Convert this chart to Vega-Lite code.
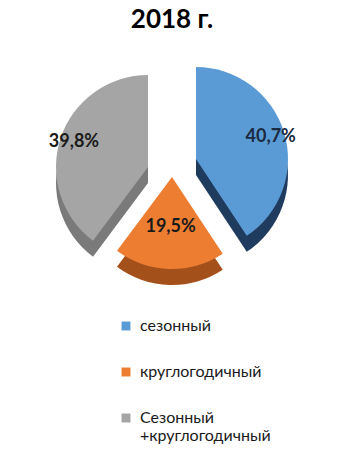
{
  "$schema": "https://vega.github.io/schema/vega-lite/v6.json",
  "width": 344,
  "height": 248,
  "padding": {"left": 0, "right": 0, "top": 7, "bottom": 0},
  "background": "white",
  "title": {"text": "2018 г.", "fontSize": 26, "font": "Lato", "fontWeight": "bold", "color": "#000000", "offset": 6, "anchor": "middle"},
  "config": {"view": {"stroke": null}},
  "data": {"values": [
    {"category": "сезонный", "value": 40.7, "label": "40,7%", "order": 1},
    {"category": "круглогодичный", "value": 19.5, "label": "19,5%", "order": 2},
    {"category": "Сезонный +круглогодичный", "value": 39.8, "label": "39,8%", "order": 3}
  ]},
  "encoding": {
    "theta": {"field": "value", "type": "quantitative", "stack": true},
    "order": {"field": "order", "type": "quantitative"}
  },
  "layer": [
    {"mark": {"type": "arc", "outerRadius": 92, "xOffset": 24, "yOffset": 12, "color": "#1F3B5E"},
     "encoding": {"opacity": {"condition": {"test": "datum.category == 'сезонный'", "value": 1}, "value": 0}}},
    {"mark": {"type": "arc", "outerRadius": 92, "xOffset": -24, "yOffset": 20, "color": "#7A7A7A"},
     "encoding": {"opacity": {"condition": {"test": "datum.category == 'Сезонный +круглогодичный'", "value": 1}, "value": 0}}},
    {"mark": {"type": "arc", "outerRadius": 92, "xOffset": 0, "yOffset": 30, "color": "#A4501A"},
     "encoding": {"opacity": {"condition": {"test": "datum.category == 'круглогодичный'", "value": 1}, "value": 0}}},
    {"mark": {"type": "arc", "outerRadius": 92, "xOffset": -24, "yOffset": 4},
     "encoding": {
       "color": {"field": "category", "type": "nominal",
         "scale": {"domain": ["сезонный", "круглогодичный", "Сезонный +круглогодичный"], "range": ["#5B9BD5", "#ED7D31", "#A5A5A5"]},
         "legend": {"orient": "none", "legendX": 118, "legendY": 279, "title": null, "symbolType": "square", "symbolSize": 80,
           "labelFontSize": 16, "labelFont": "Lato", "labelColor": "#1a1a1a", "rowPadding": 30, "labelOffset": 6,
           "labelExpr": "datum.label == 'Сезонный +круглогодичный' ? ['Сезонный', '+круглогодичный'] : datum.label"}},
       "opacity": {"condition": {"test": "datum.category == 'Сезонный +круглогодичный'", "value": 1}, "value": 0}}},
    {"mark": {"type": "arc", "outerRadius": 92, "xOffset": 24, "yOffset": -4},
     "encoding": {
       "color": {"field": "category", "type": "nominal"},
       "opacity": {"condition": {"test": "datum.category == 'сезонный'", "value": 1}, "value": 0}}},
    {"mark": {"type": "arc", "outerRadius": 92, "xOffset": 0, "yOffset": 14},
     "encoding": {
       "color": {"field": "category", "type": "nominal"},
       "opacity": {"condition": {"test": "datum.category == 'круглогодичный'", "value": 1}, "value": 0}}},
    {"mark": {"type": "text", "radius": 78, "xOffset": 24, "yOffset": -4, "fontSize": 18, "font": "Lato", "fontWeight": "bold", "color": "#1a2a40"},
     "encoding": {"text": {"field": "label", "type": "nominal"},
       "opacity": {"condition": {"test": "datum.category == 'сезонный'", "value": 1}, "value": 0}}},
    {"mark": {"type": "text", "radius": 78, "xOffset": -24, "yOffset": 4, "fontSize": 18, "font": "Lato", "fontWeight": "bold", "color": "#1a1a1a"},
     "encoding": {"text": {"field": "label", "type": "nominal"},
       "opacity": {"condition": {"test": "datum.category == 'Сезонный +круглогодичный'", "value": 1}, "value": 0}}},
    {"mark": {"type": "text", "radius": 50, "xOffset": 0, "yOffset": 14, "fontSize": 18, "font": "Lato", "fontWeight": "bold", "color": "#1a1a1a"},
     "encoding": {"text": {"field": "label", "type": "nominal"},
       "opacity": {"condition": {"test": "datum.category == 'круглогодичный'", "value": 1}, "value": 0}}}
  ]
}
